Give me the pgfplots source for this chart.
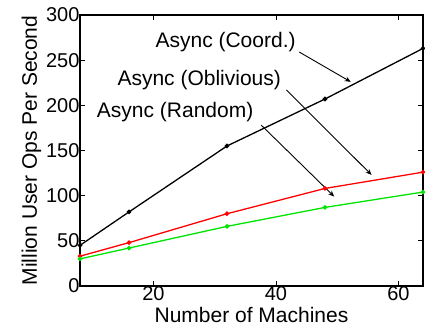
\documentclass[border=0pt]{standalone}
\usepackage{pgfplots}
\pgfplotsset{compat=1.18}
\usepackage{fontspec}
\setmainfont{Liberation Sans}
\usetikzlibrary{arrows.meta}
\begin{document}
\begin{tikzpicture}
\begin{axis}[
  scale only axis,
  width=343pt, height=271pt,
  xmin=8, xmax=64, ymin=0, ymax=300,
  xtick={20,40,60}, ytick={0,50,100,150,200,250,300},
  tick align=inside, tick pos=both,
  major tick length=5pt,
  tick style={black, line width=0.8pt},
  axis line style={line width=1.6pt},
  /pgf/number format/assume math mode=true,
  ticklabel style={font=\fontsize{20}{23}\selectfont},
  yticklabel style={xshift=3pt},
  xticklabel style={yshift=1pt, inner sep=1pt},
  label style={font=\fontsize{21}{24}\selectfont},
  xlabel={Number of Machines},
  ylabel={Million User Ops Per Second},
  xlabel style={inner sep=0pt, yshift=-6pt},
  ylabel style={yshift=-2pt},
  clip=true,
]
\addplot[black, line width=1.3pt, mark=*, mark size=1.6pt] coordinates {(8,45) (16,82) (32,155) (48,207) (64,263)};
\addplot[red, line width=1.3pt, mark=*, mark size=1.6pt] coordinates {(8,33) (16,48) (32,80) (48,108) (64,126)};
\addplot[green!90!black, line width=1.3pt, mark=*, mark size=1.6pt] coordinates {(8,30) (16,42) (32,66) (48,87) (64,104)};
\draw[black, line width=0.9pt, -{Stealth[length=6pt,width=5pt]}] (axis cs:43.8,259) -- (axis cs:52.2,226);
\draw[black, line width=0.9pt, -{Stealth[length=6pt,width=5pt]}] (axis cs:41.7,217) -- (axis cs:55.6,123);
\draw[black, line width=0.9pt, -{Stealth[length=6pt,width=5pt]}] (axis cs:37.6,178) -- (axis cs:49.5,99);
\node[anchor=east, font=\fontsize{21}{24}\selectfont, inner sep=1pt] at (axis cs:43.4,270) {Async (Coord.)};
\node[anchor=east, font=\fontsize{21}{24}\selectfont, inner sep=1pt] at (axis cs:41.0,228) {Async (Oblivious)};
\node[anchor=east, font=\fontsize{21}{24}\selectfont, inner sep=1pt] at (axis cs:36.5,193) {Async (Random)};
\end{axis}
\pgfresetboundingbox
\path[use as bounding box] ([xshift=-80pt,yshift=-45pt]current axis.south west) rectangle ([xshift=2pt,yshift=15pt]current axis.north east);
\end{tikzpicture}
\end{document}
